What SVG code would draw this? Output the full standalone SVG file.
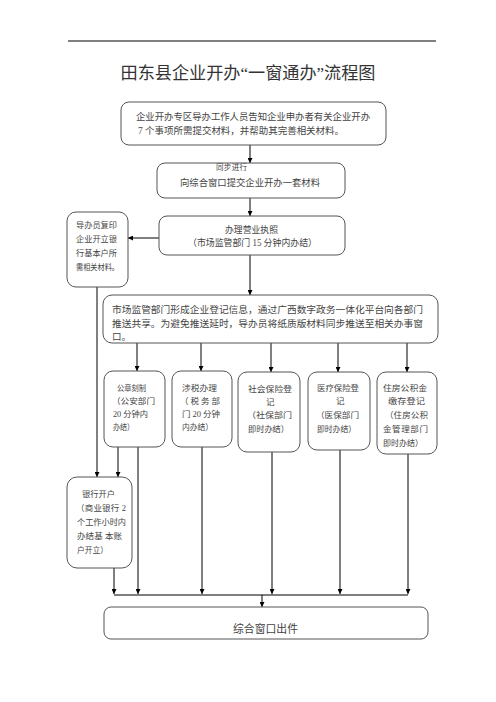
<svg xmlns="http://www.w3.org/2000/svg" width="496" height="702" viewBox="0 0 496 702">
<defs>
<style>
.bx{fill:#fff;stroke:#555;stroke-width:1}
.t{font-family:"Liberation Serif","Noto Sans CJK SC",serif;fill:#444;font-size:8.5px}
.m{font-size:9.5px}
.ln{stroke:#000;stroke-width:1;fill:none}
.la{stroke:#000;stroke-width:1;fill:none;marker-end:url(#ah)}
</style>
<marker id="ah" viewBox="0 0 10 10" refX="10" refY="5" markerWidth="5" markerHeight="5" orient="auto" markerUnits="userSpaceOnUse"><path d="M0,0 L10,5 L0,10 z" fill="#000"/></marker>
</defs>
<rect width="496" height="702" fill="#fff"/>
<line x1="68" y1="41" x2="436" y2="41" stroke="#000" stroke-width="1"/>
<text x="248" y="79" text-anchor="middle" class="t" style="font-size:17px;fill:#333" textLength="255" lengthAdjust="spacingAndGlyphs">田东县企业开办“一窗通办”流程图</text>

<g id="connectors">
<line class="la" x1="250" y1="145" x2="250" y2="163"/>
<line class="la" x1="250" y1="198" x2="250" y2="216"/>
<line class="la" x1="159" y1="238" x2="128" y2="238"/>
<line class="la" x1="250" y1="255" x2="250" y2="295"/>
<line class="la" x1="97" y1="287" x2="97" y2="477"/>
<line class="la" x1="137" y1="343" x2="137" y2="371"/>
<line class="la" x1="201" y1="343" x2="201" y2="371"/>
<line class="la" x1="271" y1="343" x2="271" y2="372"/>
<line class="la" x1="338" y1="343" x2="338" y2="372"/>
<line class="la" x1="407" y1="343" x2="407" y2="372"/>
<line class="la" x1="118" y1="447" x2="118" y2="477"/>
<line class="la" x1="138" y1="447" x2="138" y2="594"/>
<line class="la" x1="202" y1="447" x2="202" y2="594"/>
<line class="la" x1="272" y1="452" x2="272" y2="594"/>
<line class="la" x1="340" y1="450" x2="340" y2="594"/>
<line class="la" x1="408" y1="454" x2="408" y2="594"/>
<line class="la" x1="114" y1="568" x2="114" y2="594"/>
<line class="ln" x1="114" y1="595" x2="408" y2="595"/>
<line class="la" x1="262" y1="595" x2="262" y2="607"/>
</g>

<g id="n1">
<rect class="bx" x="121" y="102" width="265" height="43" rx="8"/>
<text class="t m" x="136" y="120" textLength="234" lengthAdjust="spacingAndGlyphs">企业开办专区导办工作人员告知企业申办者有关企业开办</text>
<text class="t m" x="138" y="134" textLength="206" lengthAdjust="spacingAndGlyphs">7 个事项所需提交材料，并帮助其完善相关材料。</text>
</g>

<g id="n2">
<rect class="bx" x="157" y="163" width="188" height="35" rx="8"/>
<text class="t" x="216" y="170" style="font-size:7.5px" textLength="31">同步进行</text>
<text class="t m" x="180" y="186" textLength="140" lengthAdjust="spacingAndGlyphs">向综合窗口提交企业开办一套材料</text>
</g>

<g id="n3">
<rect class="bx" x="159" y="216" width="186" height="39" rx="8"/>
<text class="t m" x="225" y="233" textLength="53" lengthAdjust="spacingAndGlyphs">办理营业执照</text>
<text class="t m" x="188" y="246" textLength="129" lengthAdjust="spacingAndGlyphs">（市场监管部门 15 分钟内办结）</text>
</g>

<g id="n4">
<rect class="bx" x="67" y="212" width="61" height="75" rx="9"/>
<text class="t" x="76" y="228" textLength="41" lengthAdjust="spacingAndGlyphs">导办员复印</text>
<text class="t" x="76" y="242" textLength="41" lengthAdjust="spacingAndGlyphs">企业开立银</text>
<text class="t" x="76" y="256" textLength="41" lengthAdjust="spacingAndGlyphs">行基本户所</text>
<text class="t" x="76" y="270" textLength="43" lengthAdjust="spacingAndGlyphs">需相关材料。</text>
</g>

<g id="n5">
<rect class="bx" x="103" y="295" width="335" height="48" rx="9"/>
<text class="t m" x="112" y="313" textLength="311" lengthAdjust="spacingAndGlyphs">市场监管部门形成企业登记信息，通过广西数字政务一体化平台向各部门</text>
<text class="t m" x="112" y="327" textLength="311" lengthAdjust="spacingAndGlyphs">推送共享。为避免推送延时，导办员将纸质版材料同步推送至相关办事窗</text>
<text class="t m" x="112" y="340">口。</text>
</g>

<g id="n6">
<rect class="bx" x="104" y="371" width="61" height="76" rx="9"/>
<text class="t" x="117" y="391" textLength="29" lengthAdjust="spacingAndGlyphs">公章刻制</text>
<text class="t" x="112" y="404" textLength="43" lengthAdjust="spacingAndGlyphs">（公安部门</text>
<text class="t" x="113" y="417" textLength="35" lengthAdjust="spacingAndGlyphs">20 分钟内</text>
<text class="t" x="113" y="430" textLength="21" lengthAdjust="spacingAndGlyphs">办结）</text>
</g>

<g id="n7">
<rect class="bx" x="172" y="371" width="60" height="76" rx="9"/>
<text class="t" x="182" y="391" textLength="35" lengthAdjust="spacingAndGlyphs">涉税办理</text>
<text class="t" x="180" y="404" textLength="40" lengthAdjust="spacing">（税务部</text>
<text class="t" x="182" y="417" textLength="38" lengthAdjust="spacing">门 20 分钟</text>
<text class="t" x="182" y="430" textLength="31" lengthAdjust="spacingAndGlyphs">内办结）</text>
</g>

<g id="n8">
<rect class="bx" x="238" y="372" width="62" height="80" rx="9"/>
<text class="t" x="248" y="392" textLength="44" lengthAdjust="spacingAndGlyphs">社会保险登</text>
<text class="t" x="266" y="405">记</text>
<text class="t" x="247" y="418" textLength="45" lengthAdjust="spacingAndGlyphs">（社保部门</text>
<text class="t" x="248" y="432" textLength="41" lengthAdjust="spacingAndGlyphs">即时办结）</text>
</g>

<g id="n9">
<rect class="bx" x="308" y="372" width="62" height="78" rx="9"/>
<text class="t" x="317" y="391" textLength="42" lengthAdjust="spacingAndGlyphs">医疗保险登</text>
<text class="t" x="336" y="404">记</text>
<text class="t" x="316" y="418" textLength="43" lengthAdjust="spacingAndGlyphs">（医保部门</text>
<text class="t" x="317" y="432" textLength="39" lengthAdjust="spacingAndGlyphs">即时办结）</text>
</g>

<g id="n10">
<rect class="bx" x="377" y="372" width="60" height="82" rx="9"/>
<text class="t" x="383" y="391" textLength="44" lengthAdjust="spacingAndGlyphs">住房公积金</text>
<text class="t" x="388" y="404" textLength="37" lengthAdjust="spacingAndGlyphs">缴存登记</text>
<text class="t" x="385" y="418" textLength="43" lengthAdjust="spacing">（住房公积</text>
<text class="t" x="383" y="432" textLength="45" lengthAdjust="spacing">金管理部门</text>
<text class="t" x="383" y="446" textLength="40" lengthAdjust="spacingAndGlyphs">即时办结）</text>
</g>

<g id="n11">
<rect class="bx" x="67" y="477" width="65" height="91" rx="10"/>
<text class="t" x="82" y="497" textLength="33" lengthAdjust="spacingAndGlyphs">银行开户</text>
<text class="t" x="76" y="511" textLength="50" lengthAdjust="spacing">（商业银行 2</text>
<text class="t" x="77" y="525" textLength="49" lengthAdjust="spacingAndGlyphs">个工作小时内</text>
<text class="t" x="77" y="539" textLength="45" lengthAdjust="spacing">办结基 本账</text>
<text class="t" x="77" y="553" textLength="31" lengthAdjust="spacingAndGlyphs">户开立）</text>
</g>

<g id="n12">
<rect class="bx" x="104" y="607" width="324" height="32" rx="7"/>
<text class="t" x="233" y="633" style="font-size:11px" textLength="65" lengthAdjust="spacingAndGlyphs">综合窗口出件</text>
</g>
</svg>
